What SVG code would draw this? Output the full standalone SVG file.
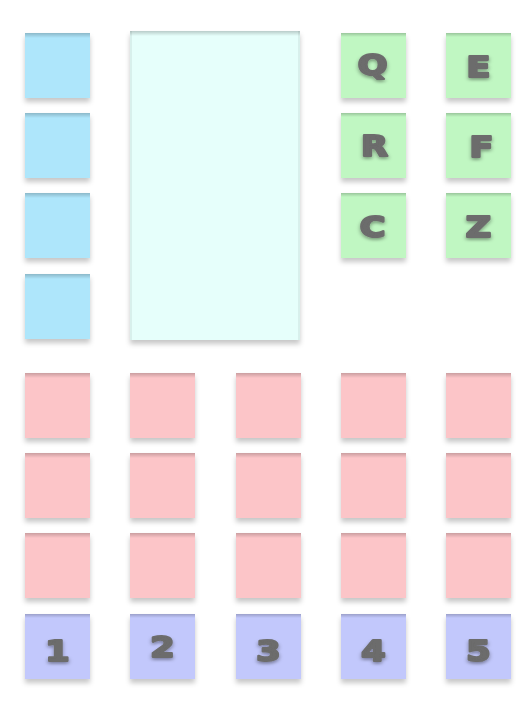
<svg xmlns="http://www.w3.org/2000/svg" width="530" height="706" viewBox="0 0 530 706">
<defs>
<filter id="sh" x="-20%" y="-20%" width="140%" height="150%">
<feDropShadow dx="0" dy="4" stdDeviation="2.5" flood-color="#000" flood-opacity="0.22"/>
</filter>
<filter id="tsh" x="-30%" y="-30%" width="160%" height="170%">
<feDropShadow dx="0" dy="2" stdDeviation="1.5" flood-color="#000" flood-opacity="0.35"/>
</filter>
<linearGradient id="topb" x1="0" y1="0" x2="0" y2="1">
<stop offset="0" stop-color="#000" stop-opacity="0.2"/>
<stop offset="1" stop-color="#000" stop-opacity="0"/>
</linearGradient>
</defs>
<style>
.box{filter:url(#sh);}
.blue{fill:#aee6fb;}
.cyan{fill:#e6fffb;}
.green{fill:#c0f7c2;}
.pink{fill:#fcc5c8;}
.num{fill:#c2c8fc;}
.edge{fill:url(#topb);}
.side{fill:#000;opacity:0.06;}
text{font-family:"DejaVu Sans","Liberation Sans",sans-serif;font-weight:bold;font-size:28px;fill:#6c6c6c;stroke:#6c6c6c;stroke-width:2.2;stroke-linejoin:round;text-anchor:middle;filter:url(#tsh);}
</style>
<rect width="530" height="706" fill="#ffffff"/>
<g id="b1"><rect class="box blue" x="25" y="33" width="65" height="65"/><rect class="edge" x="25" y="33" width="65" height="5"/></g>
<g id="b2"><rect class="box blue" x="25" y="113" width="65" height="65"/><rect class="edge" x="25" y="113" width="65" height="5"/></g>
<g id="b3"><rect class="box blue" x="25" y="193" width="65" height="65"/><rect class="edge" x="25" y="193" width="65" height="5"/></g>
<g id="b4"><rect class="box blue" x="25" y="274" width="65" height="65"/><rect class="edge" x="25" y="274" width="65" height="5"/></g>
<g id="panel"><rect class="box cyan" x="130" y="31" width="170" height="309"/><rect class="edge" x="130" y="31" width="170" height="5"/><rect class="side" x="130" y="31" width="2" height="309"/><rect class="side" x="298" y="31" width="2" height="309"/></g>
<g id="nQ"><rect class="box green" x="341" y="33" width="65" height="65"/><rect class="edge" x="341" y="33" width="65" height="4"/><text transform="translate(372.5,75) scale(1.25,1)">Q</text></g>
<g id="nE"><rect class="box green" x="446" y="33" width="65" height="65"/><rect class="edge" x="446" y="33" width="65" height="4"/><text transform="translate(478.5,77) scale(1.25,1)">E</text></g>
<g id="nR"><rect class="box green" x="341" y="113" width="65" height="65"/><rect class="edge" x="341" y="113" width="65" height="4"/><text transform="translate(374.5,156) scale(1.25,1)">R</text></g>
<g id="nF"><rect class="box green" x="446" y="113" width="65" height="65"/><rect class="edge" x="446" y="113" width="65" height="4"/><text transform="translate(481.5,157) scale(1.25,1)">F</text></g>
<g id="nC"><rect class="box green" x="341" y="193" width="65" height="65"/><rect class="edge" x="341" y="193" width="65" height="4"/><text transform="translate(372.5,237) scale(1.25,1)">C</text></g>
<g id="nZ"><rect class="box green" x="446" y="193" width="65" height="65"/><rect class="edge" x="446" y="193" width="65" height="4"/><text transform="translate(478.5,237) scale(1.25,1)">Z</text></g>
<g id="p11"><rect class="box pink" x="25" y="373" width="65" height="65"/><rect class="edge" x="25" y="373" width="65" height="5"/></g>
<g id="p12"><rect class="box pink" x="130" y="373" width="65" height="65"/><rect class="edge" x="130" y="373" width="65" height="5"/></g>
<g id="p13"><rect class="box pink" x="236" y="373" width="65" height="65"/><rect class="edge" x="236" y="373" width="65" height="5"/></g>
<g id="p14"><rect class="box pink" x="341" y="373" width="65" height="65"/><rect class="edge" x="341" y="373" width="65" height="5"/></g>
<g id="p15"><rect class="box pink" x="446" y="373" width="65" height="65"/><rect class="edge" x="446" y="373" width="65" height="5"/></g>
<g id="p21"><rect class="box pink" x="25" y="453" width="65" height="65"/><rect class="edge" x="25" y="453" width="65" height="5"/></g>
<g id="p22"><rect class="box pink" x="130" y="453" width="65" height="65"/><rect class="edge" x="130" y="453" width="65" height="5"/></g>
<g id="p23"><rect class="box pink" x="236" y="453" width="65" height="65"/><rect class="edge" x="236" y="453" width="65" height="5"/></g>
<g id="p24"><rect class="box pink" x="341" y="453" width="65" height="65"/><rect class="edge" x="341" y="453" width="65" height="5"/></g>
<g id="p25"><rect class="box pink" x="446" y="453" width="65" height="65"/><rect class="edge" x="446" y="453" width="65" height="5"/></g>
<g id="p31"><rect class="box pink" x="25" y="533" width="65" height="65"/><rect class="edge" x="25" y="533" width="65" height="5"/></g>
<g id="p32"><rect class="box pink" x="130" y="533" width="65" height="65"/><rect class="edge" x="130" y="533" width="65" height="5"/></g>
<g id="p33"><rect class="box pink" x="236" y="533" width="65" height="65"/><rect class="edge" x="236" y="533" width="65" height="5"/></g>
<g id="p34"><rect class="box pink" x="341" y="533" width="65" height="65"/><rect class="edge" x="341" y="533" width="65" height="5"/></g>
<g id="p35"><rect class="box pink" x="446" y="533" width="65" height="65"/><rect class="edge" x="446" y="533" width="65" height="5"/></g>
<g id="n1"><rect class="box num" x="25" y="614" width="65" height="65"/><rect class="edge" x="25" y="614" width="65" height="4"/><text transform="translate(57.5,661) scale(1.25,1)">1</text></g>
<g id="n2"><rect class="box num" x="130" y="614" width="65" height="65"/><rect class="edge" x="130" y="614" width="65" height="4"/><text transform="translate(162.5,657) scale(1.25,1)">2</text></g>
<g id="n3"><rect class="box num" x="236" y="614" width="65" height="65"/><rect class="edge" x="236" y="614" width="65" height="4"/><text transform="translate(268.5,661) scale(1.25,1)">3</text></g>
<g id="n4"><rect class="box num" x="341" y="614" width="65" height="65"/><rect class="edge" x="341" y="614" width="65" height="4"/><text transform="translate(373.5,661) scale(1.25,1)">4</text></g>
<g id="n5"><rect class="box num" x="446" y="614" width="65" height="65"/><rect class="edge" x="446" y="614" width="65" height="4"/><text transform="translate(478.5,661) scale(1.25,1)">5</text></g>
<g id="connectors"></g>
</svg>
